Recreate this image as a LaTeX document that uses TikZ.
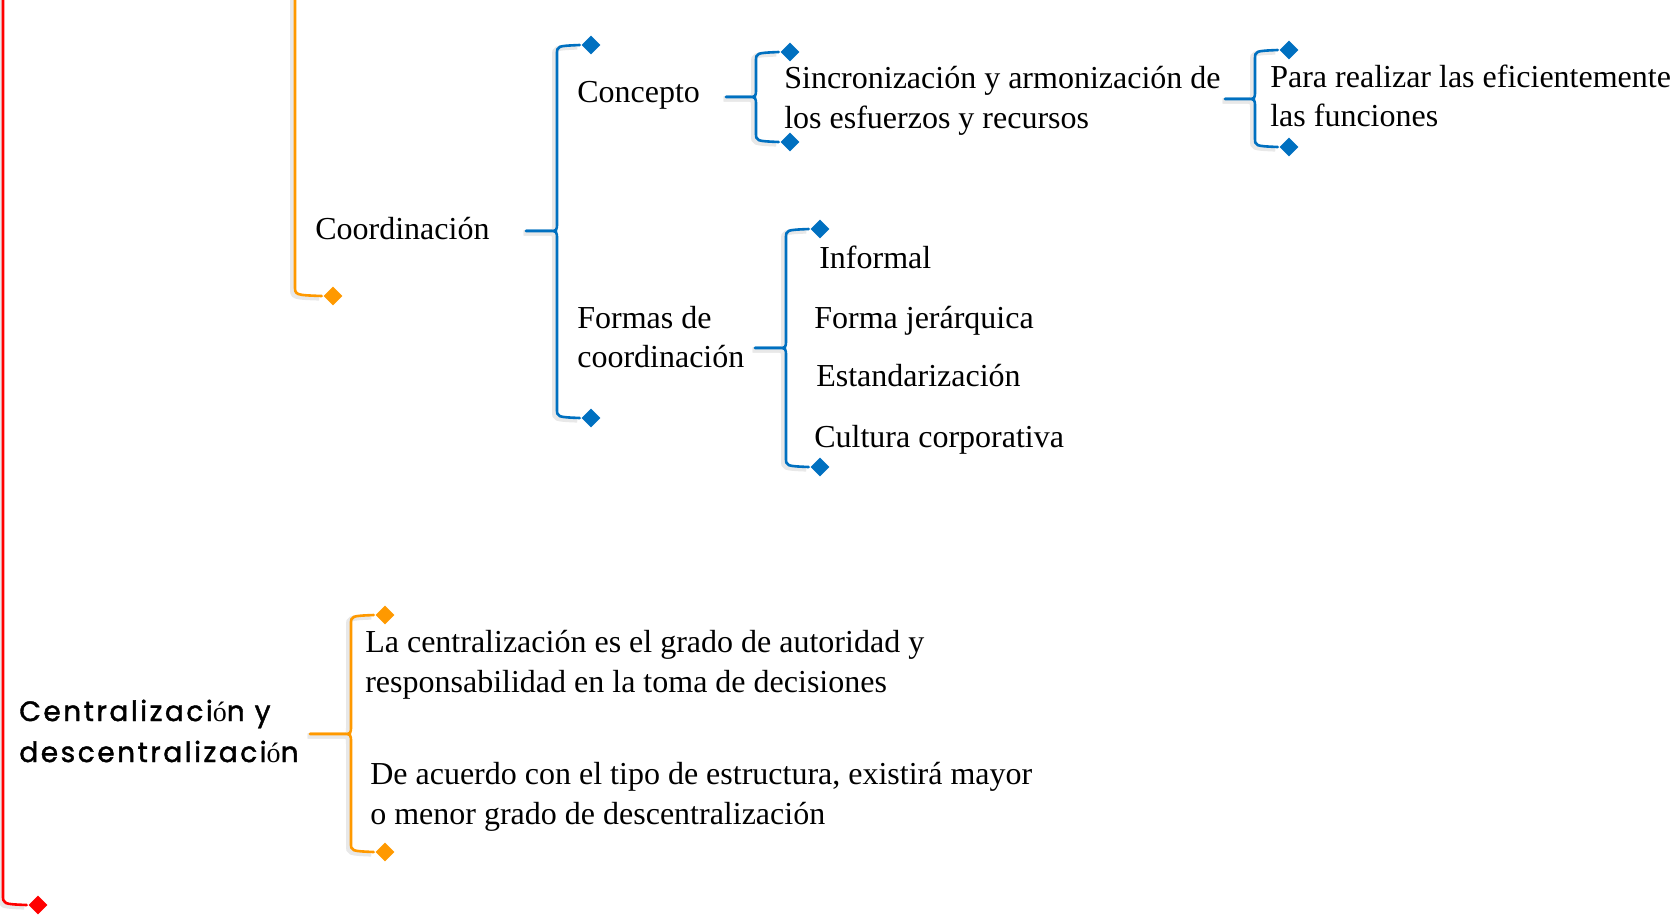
\documentclass[tikz,border=0pt]{standalone}
\usepackage{fontspec}
\setmainfont{Liberation Serif}
\newfontfamily\gothic{Poppins}[LetterSpace=9,FakeBold=1.5]
\usetikzlibrary{shapes.geometric}
\usetikzlibrary{positioning}
\usetikzlibrary{calc}
\definecolor{mapred}{RGB}{255,0,0}
\definecolor{maporange}{RGB}{255,153,0}
\definecolor{mapblue}{RGB}{0,112,192}
\tikzset{every picture/.style={line width=1.3pt},
  txt/.style={anchor=west,inner sep=0pt,align=left,font=\fontsize{16}{19.8}\selectfont},
  gothictxt/.style={anchor=west,inner sep=0pt,align=left,font=\gothic\fontsize{14}{20.5}\selectfont},
  dmd/.style={diamond,fill=#1,draw=none,minimum size=10pt,inner sep=0pt},
  link/.style={draw=#1,line cap=round,preaction={draw=black!9,line width=2.6pt,transform canvas={shift={(-1.2pt,-1pt)}}}}}
% brace: colour, tip, upper diamond, lower diamond
\newcommand{\mapbrace}[4]{%
\draw[link=#1] (#2) -- ($(#2 -| #3)+(-42,0)$) .. controls ($(#2 -| #3)+(-34,0)$) .. ($(#2 -| #3)+(-34,-9)$)
  -- ($(#3)+(-34,9)$) .. controls ($(#3)+(-34,1)$) .. (#3.west);
\draw[link=#1] (#2) -- ($(#2 -| #4)+(-42,0)$) .. controls ($(#2 -| #4)+(-34,0)$) .. ($(#2 -| #4)+(-34,9)$)
  -- ($(#4)+(-34,-9)$) .. controls ($(#4)+(-34,-1)$) .. (#4.west);}

\begin{document}
\begin{tikzpicture}[x=0.5pt,y=-0.5pt]
\useasboundingbox (0,0) rectangle (1679,917);

% outer lines
\coordinate (redtop) at (3,-5);
\node[dmd=mapred] (redend) at (38,905) {};
\draw[link=mapred] (redtop) -- ($(redtop |- redend)+(0,-10)$) .. controls ($(redtop |- redend)+(0,-1)$) .. (redend.west);
\coordinate (orgtop) at (295,-5);
\node[dmd=maporange] (orgend) at (333,296) {};
\draw[link=maporange] (orgtop) -- ($(orgtop |- orgend)+(0,-10)$) .. controls ($(orgtop |- orgend)+(0,-1)$) .. (orgend.west);

% coordinacion
\node[txt] (coord) at (314,229) {Coordinación};
\coordinate (coordtip) at (526,231);
\node[dmd=mapblue] (coordup) at (591,45) {};
\node[dmd=mapblue] (coorddn) at (591,418) {};
\mapbrace{mapblue}{coordtip}{coordup}{coorddn}

\node[txt] (concepto) at (576,95) {Concepto};
\node[txt] (formas) at (576,337) {Formas de\\coordinación};

\coordinate (conctip) at (726,97);
\node[dmd=mapblue] (concup) at (790,52) {};
\node[dmd=mapblue] (concdn) at (790,142) {};
\mapbrace{mapblue}{conctip}{concup}{concdn}
\node[txt] (sincro) at (783,101) {Sincronización y armonización de\\los esfuerzos y recursos};

\coordinate (paratip) at (1225,99);
\node[dmd=mapblue] (paraup) at (1289,50) {};
\node[dmd=mapblue] (paradn) at (1289,147) {};
\mapbrace{mapblue}{paratip}{paraup}{paradn}
\node[txt] (para) at (1269,96) {Para realizar las eficientemente\\las funciones};

\coordinate (formtip) at (755,348);
\node[dmd=mapblue] (formup) at (820,229) {};
\node[dmd=mapblue] (formdn) at (820,467) {};
\mapbrace{mapblue}{formtip}{formup}{formdn}
\node[txt] (informal) at (818,257) {Informal};
\node[txt] (jerarq) at (813,321) {Forma jerárquica};
\node[txt] (estand) at (815,376) {Estandarización};
\node[txt] (cultura) at (813,440) {Cultura corporativa};

% centralizacion
\node[gothictxt] (central) at (18,731) {Centralizaci{\rmfamily ó}n y\\descentralizaci{\rmfamily ó}n};
\coordinate (centtip) at (310,734);
\node[dmd=maporange] (centup) at (385,615) {};
\node[dmd=maporange] (centdn) at (385,852) {};
\mapbrace{maporange}{centtip}{centup}{centdn}
\node[txt] (grado) at (364,665) {La centralización es el grado de autoridad y\\responsabilidad en la toma de decisiones};
\node[txt] (acuerdo) at (369,797) {De acuerdo con el tipo de estructura, existirá mayor\\o menor grado de descentralización};
\end{tikzpicture}
\end{document}
